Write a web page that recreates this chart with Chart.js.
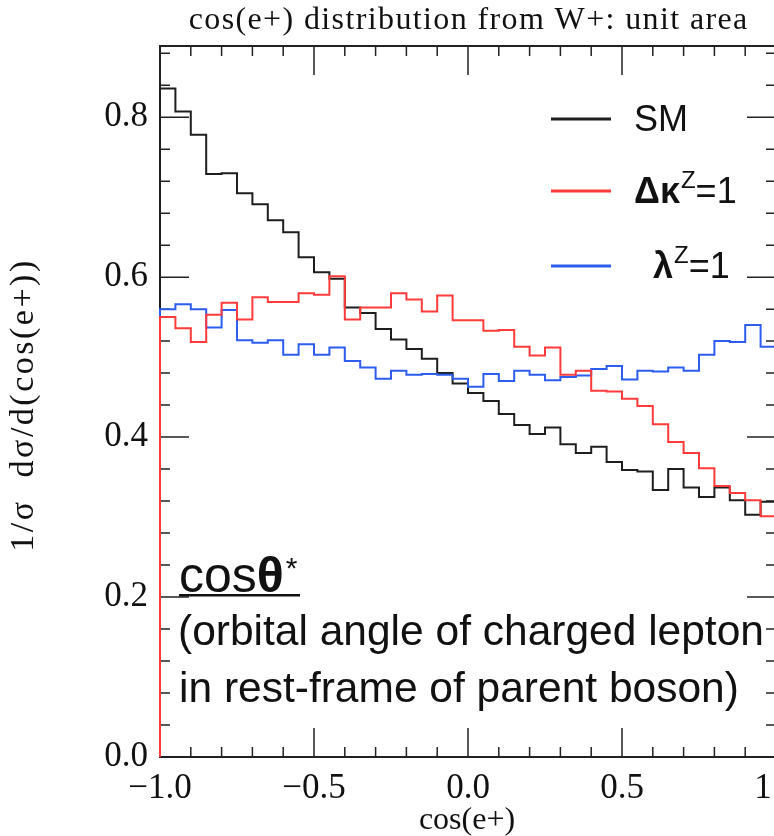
<!DOCTYPE html>
<html>
<head>
<meta charset="utf-8">
<script src="https://cdn.jsdelivr.net/npm/chart.js@4"></script>
<style>
  html, body { margin: 0; padding: 0; background: #fff; overflow: hidden; }
  #wrap { width: 800px; height: 836px; }
</style>
</head>
<body>
<div id="wrap"><canvas id="histCanvas" width="800" height="836"></canvas></div>
<script>
// bin edges of the cos(e+) histogram (40 bins)
const binEdges = [-1.00, -0.95, -0.90, -0.85, -0.80, -0.75, -0.70, -0.65, -0.60, -0.55,
                  -0.50, -0.45, -0.40, -0.35, -0.30, -0.25, -0.20, -0.15, -0.10, -0.05,
                   0.00,  0.05,  0.10,  0.15,  0.20,  0.25,  0.30,  0.35,  0.40,  0.45,
                   0.50,  0.55,  0.60,  0.65,  0.70,  0.75,  0.80,  0.85,  0.90,  0.95, 1.00];

// bin contents
const smValues = [0.836, 0.807, 0.778, 0.729, 0.730, 0.705, 0.691, 0.671, 0.656, 0.625,
                  0.606, 0.598, 0.562, 0.555, 0.535, 0.522, 0.510, 0.498, 0.480, 0.467,
                  0.455, 0.445, 0.429, 0.415, 0.404, 0.412, 0.391, 0.380, 0.388, 0.369,
                  0.359, 0.357, 0.334, 0.360, 0.337, 0.325, 0.337, 0.321, 0.303, 0.319];
const dkValues = [0.550, 0.536, 0.519, 0.553, 0.568, 0.547, 0.575, 0.569, 0.569, 0.580,
                  0.578, 0.601, 0.547, 0.562, 0.562, 0.580, 0.572, 0.557, 0.577, 0.546,
                  0.546, 0.533, 0.534, 0.513, 0.502, 0.512, 0.478, 0.483, 0.458, 0.457,
                  0.448, 0.439, 0.416, 0.394, 0.380, 0.361, 0.339, 0.330, 0.321, 0.301];
const lzValues = [0.560, 0.566, 0.560, 0.537, 0.559, 0.521, 0.518, 0.521, 0.503, 0.516,
                  0.503, 0.512, 0.495, 0.487, 0.473, 0.483, 0.478, 0.479, 0.478, 0.473,
                  0.463, 0.479, 0.470, 0.483, 0.478, 0.471, 0.475, 0.477, 0.485, 0.489,
                  0.472, 0.483, 0.482, 0.487, 0.483, 0.503, 0.520, 0.519, 0.540, 0.513];

const xMajorTicks = [-1.0, -0.5, 0.0, 0.5, 1.0];
const yMajorTicks = [0.0, 0.2, 0.4, 0.6, 0.8];

const SERIF = '"Liberation Serif", "DejaVu Serif", serif';
const SANS = '"Liberation Sans", Arial, sans-serif';

const COL_SM = '#1e1e1e';
const COL_DK = '#ff3a3a';
const COL_LZ = '#2c5cf0';

function histPoints(vals) {
    const pts = [{ x: binEdges[0], y: 0 }];
    vals.forEach((v, i) => pts.push({ x: binEdges[i], y: v }));
    pts.push({ x: binEdges[binEdges.length - 1], y: vals[vals.length - 1] });
    return pts;
}

function fmt(v) {
    if (Math.abs(v) < 1e-9) v = 0;
    return v.toFixed(1).replace('-', '\u2212');
}

// draw text stretched to a target width with letter spacing
function spacedText(ctx, text, x, y, target) {
    ctx.letterSpacing = '0px';
    const w = ctx.measureText(text).width;
    const sp = Math.max(0, (target - w) / text.length);
    ctx.letterSpacing = sp + 'px';
    ctx.fillText(text, x + sp / 2, y);
    ctx.letterSpacing = '0px';
}

const framePlugin = {
    id: 'frame',
    beforeDatasetsDraw(chart) {
        const { ctx, chartArea: a, scales } = chart;
        const xs = scales.x, ys = scales.y;
        ctx.save();
        ctx.strokeStyle = '#222';
        ctx.lineWidth = 2;
        ctx.strokeRect(a.left, a.top, a.right - a.left, a.bottom - a.top);
        ctx.lineWidth = 1.5;
        ctx.beginPath();
        // x ticks, minor every 0.1
        for (let i = 0; i <= 20; i++) {
            const v = -1 + i * 0.1;
            const major = i % 5 === 0;
            const len = major ? 29 : 10;
            const px = xs.getPixelForValue(v);
            ctx.moveTo(px, a.bottom); ctx.lineTo(px, a.bottom - len);
            ctx.moveTo(px, a.top); ctx.lineTo(px, a.top + len);
        }
        // y ticks, minor every 0.04
        for (let i = 0; i <= 22; i++) {
            const v = i * 0.04;
            if (v > ys.max) break;
            const major = i % 5 === 0;
            const len = major ? 29 : 10;
            const py = ys.getPixelForValue(v);
            ctx.moveTo(a.left, py); ctx.lineTo(a.left + len, py);
            ctx.moveTo(a.right, py); ctx.lineTo(a.right - len, py);
        }
        ctx.stroke();
        ctx.restore();
    },
    afterDraw(chart) {
        const { ctx } = chart;
        ctx.save();
        ctx.fillStyle = '#111';

        // title
        ctx.font = '32px ' + SERIF;
        ctx.textBaseline = 'middle';
        ctx.textAlign = 'left';
        spacedText(ctx, 'cos(e+) distribution from W+: unit area', 188, 21, 560);

        // x title
        ctx.textAlign = 'center';
        ctx.font = '32px ' + SERIF;
        ctx.fillText('cos(e+)', 467, 821);

        // y title
        ctx.save();
        ctx.translate(24, 405);
        ctx.rotate(-Math.PI / 2);
        ctx.font = '34px ' + SERIF;
        ctx.letterSpacing = '2.5px';
        ctx.fillText('1/\u03c3  d\u03c3/d(cos(e+))', 0, 0);
        ctx.letterSpacing = '0px';
        ctx.restore();
        ctx.textAlign = 'left';

        // legend
        const leg = [
            { col: COL_SM, y: 119, x: 634, main: 'SM', greek: '', sup: '' },
            { col: COL_DK, y: 191, x: 634, main: '=1', greek: '\u0394\u03ba', sup: 'Z' },
            { col: COL_LZ, y: 266, x: 653, main: '=1', greek: '\u03bb', sup: 'Z' }
        ];
        leg.forEach(l => {
            ctx.strokeStyle = l.col;
            ctx.lineWidth = 3;
            ctx.beginPath();
            ctx.moveTo(551, l.y); ctx.lineTo(611, l.y);
            ctx.stroke();
            ctx.textBaseline = 'alphabetic';
            let x = l.x;
            const base = l.y + 12;
            if (l.greek) {
                ctx.font = 'bold 36px ' + SANS;
                ctx.fillText(l.greek, x, base);
                x += ctx.measureText(l.greek).width + 1;
                ctx.font = '24px ' + SANS;
                ctx.fillText(l.sup, x, base - 15);
                x += ctx.measureText(l.sup).width;
            }
            ctx.font = '36px ' + SANS;
            ctx.fillText(l.main, x, base);
        });

        // annotation
        ctx.textBaseline = 'alphabetic';
        ctx.font = '50px ' + SANS;
        ctx.fillText('cos', 179, 592);
        let cx = 179 + ctx.measureText('cos').width;
        ctx.font = 'bold 50px ' + SANS;
        ctx.fillText('\u03b8', cx, 592);
        cx += ctx.measureText('\u03b8').width + 2;
        ctx.font = '30px ' + SANS;
        ctx.fillText('*', cx, 578);
        ctx.fillRect(179, 594, 121, 2.5);

        ctx.font = '42.5px ' + SANS;
        ctx.textBaseline = 'middle';
        ctx.fillText('(orbital angle of charged lepton', 178, 633);
        ctx.fillText('in rest-frame of parent boson)', 179, 690);
        ctx.restore();
    }
};

const ctx = document.getElementById('histCanvas').getContext('2d');
const chart = new Chart(ctx, {
    type: 'line',
    data: {
        datasets: [
            { label: 'SM', data: histPoints(smValues), borderColor: COL_SM, order: 3 },
            { label: '\u0394\u03baZ=1', data: histPoints(dkValues), borderColor: COL_DK, order: 1 },
            { label: '\u03bbZ=1', data: histPoints(lzValues), borderColor: COL_LZ, order: 2 }
        ].map(d => Object.assign(d, {
            stepped: 'before',
            borderWidth: 2,
            pointRadius: 0,
            fill: false,
            tension: 0,
            clip: 4
        }))
    },
    options: {
        responsive: false,
        animation: false,
        devicePixelRatio: 1,
        layout: { padding: { top: 46, right: 24, left: 0, bottom: 0 } },
        plugins: { legend: { display: false }, tooltip: { enabled: false }, title: { display: false } },
        scales: {
            x: {
                type: 'linear',
                min: -1, max: 1,
                grid: { display: false, drawTicks: false },
                border: { display: false },
                afterBuildTicks: s => { s.ticks = xMajorTicks.map(v => ({ value: v })); },
                afterFit: s => { s.height = 79; s.paddingLeft = 0; s.paddingRight = 0; },
                ticks: {
                    autoSkip: false, maxRotation: 0, padding: 11,
                    color: '#111',
                    font: { family: SERIF, size: 35 },
                    callback: v => fmt(v)
                }
            },
            y: {
                type: 'linear',
                min: 0, max: 0.889,
                grid: { display: false, drawTicks: false },
                border: { display: false },
                afterBuildTicks: s => { s.ticks = yMajorTicks.map(v => ({ value: v })); },
                afterFit: s => { s.width = 160; s.paddingTop = 0; s.paddingBottom = 0; },
                ticks: {
                    autoSkip: false, padding: 12,
                    color: '#111',
                    font: { family: SERIF, size: 35 },
                    callback: v => fmt(v)
                }
            }
        }
    },
    plugins: [framePlugin]
});
</script>
</body>
</html>
